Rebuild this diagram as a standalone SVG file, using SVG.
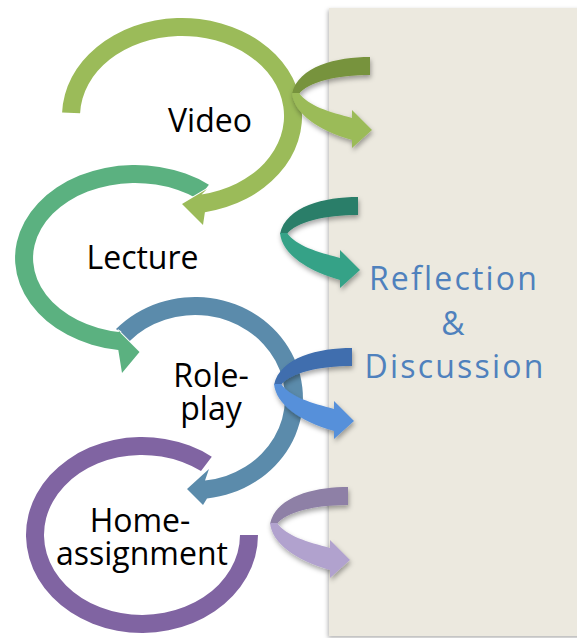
<svg xmlns="http://www.w3.org/2000/svg" xmlns:xlink="http://www.w3.org/1999/xlink" width="577" height="638" viewBox="0 0 577 638">
  <defs>
    <style>
      .lbl{font-family:"Open Sans","Liberation Sans",sans-serif;font-size:32px;fill:#000;text-anchor:middle}
      .side{font-family:"Open Sans","Liberation Sans",sans-serif;font-size:32px;fill:#4F81BD;text-anchor:middle;letter-spacing:2.2px}
      .cyc{stroke:#fff;stroke-width:2;paint-order:stroke;stroke-linejoin:miter}
    </style>
    <filter id="panelShadow" x="-5%" y="-5%" width="110%" height="110%">
      <feDropShadow dx="-1" dy="2" stdDeviation="2" flood-color="#000" flood-opacity="0.3"/>
    </filter>
    <filter id="twistShadow" x="-20%" y="-20%" width="140%" height="160%">
      <feDropShadow dx="1" dy="3" stdDeviation="2.5" flood-color="#000" flood-opacity="0.35"/>
    </filter>
    <!-- twisted arrow: back band uses currentColor, front band uses fill -->
    <g id="twist">
      <path d="M0,0 C-33,0 -72,9 -78,37 L-71,37 C-62,25 -33,18 0,18 Z" fill="currentColor"/>
      <path d="M-78,36 C-76,56 -53,73 -18,83 L-18,91 L2,73 L-18,53 L-18,61 C-40,55 -62,49 -71,36 Z"/>
    </g>
  </defs>

  <rect width="577" height="638" fill="#fff"/>

  <!-- side panel -->
  <g id="reflection">
    <rect x="329" y="8" width="260" height="628" fill="#ECE9DF" filter="url(#panelShadow)"/>
    <text class="side" x="454" y="290">Reflection</text>
    <text class="side" x="454" y="335">&amp;</text>
    <text class="side" x="455" y="378">Discussion</text>
  </g>

  <!-- cycle stages -->
  <g id="home-assignment">
    <path class="cyc" fill="#8064A2" d="M211.8,456.7 A116,98 0 1 0 258,535 L240,535 A98,80 0 1 1 201,471 Z"/>
    <text class="lbl"><tspan x="140" y="532">Home-</tspan><tspan x="142" dy="33">assignment</tspan></text>
  </g>

  <g id="role-play">
    <path class="cyc" fill="#5B8BAB" d="M116,329.1 A108,101 0 1 1 207,498.4 L203,505 L187,489 L209,469 L205,480.5 A90,83 0 1 0 129.2,341.4 Z"/>
    <text class="lbl"><tspan x="211" y="387">Role-</tspan><tspan x="211" dy="33">play</tspan></text>
  </g>

  <g id="lecture">
    <path class="cyc" fill="#5BB180" d="M208.9,184.7 A120,93 0 1 0 118.3,350.1 L122,373 L139.5,352 L117.5,330 L120.8,332.3 A102,75 0 1 1 197.8,198.9 Z"/>
    <text class="lbl" x="142.5" y="269">Lecture</text>
  </g>

  <g id="video">
    <path class="cyc" fill="#9BBB59" d="M62.1,112.6 A120,98 0 1 1 204.9,212.2 L203,225 L182,204 L207,189 L201.5,194.5 A102,80 0 1 0 80.1,113.2 Z"/>
    <text class="lbl" x="210" y="132">Video</text>
  </g>

  <!-- arrows into the panel -->
  <g id="connectors">
    <use xlink:href="#twist" transform="translate(370,57)" fill="#9BBB59" color="#77933C" filter="url(#twistShadow)"/>
    <use xlink:href="#twist" transform="translate(358,197)" fill="#35A287" color="#2A7E69" filter="url(#twistShadow)"/>
    <use xlink:href="#twist" transform="translate(352,348)" fill="#5690DA" color="#3F6EAE" filter="url(#twistShadow)"/>
    <use xlink:href="#twist" transform="translate(348,487)" fill="#B1A2CE" color="#8E80A6" filter="url(#twistShadow)"/>
  </g>
</svg>
